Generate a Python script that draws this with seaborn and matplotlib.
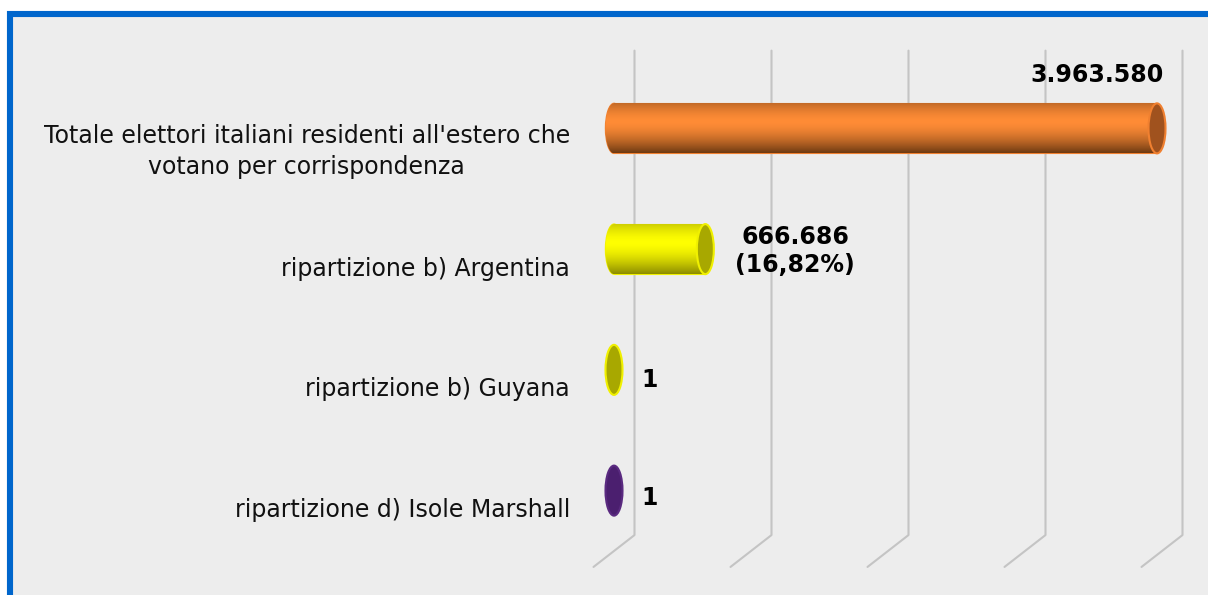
import matplotlib
matplotlib.use("Agg")
import matplotlib.pyplot as plt
import matplotlib.transforms as mtransforms
from matplotlib.patches import Ellipse, Rectangle
import numpy as np
import pandas as pd
import seaborn as sns

# Data
categories = ["Totale elettori italiani residenti all'estero che\nvotano per corrispondenza",
              "ripartizione b) Argentina",
              "ripartizione b) Guyana",
              "ripartizione d) Isole Marshall"]
values = [3963580, 666686, 1, 1]
value_labels = ["3.963.580", "666.686\n(16,82%)", "1", "1"]
x_ticks = [0, 1000000, 2000000, 3000000, 4000000]

# colours: body, cap fill, cap edge, shadow
body_colors = ["#FF8C36", "#FFFF00", "#FFFF00", "#4B1F6F"]
cap_colors = ["#A0521E", "#A8A800", "#A8A800", "#4B1F6F"]
edge_colors = ["#F08030", "#F0F000", "#F0F000", "#5A2A80"]
shade_colors = ["#6E3A12", "#8C8C00", "#8C8C00", "#2E1245"]

df = pd.DataFrame({"categoria": categories, "elettori": values})

sns.set_style("white")
plt.rcParams["font.family"] = ["DejaVu Sans"]

W, H = 1208, 595
fig = plt.figure(figsize=(W / 100, H / 100), dpi=100)
fig.patch.set_facecolor("white")

# framed panel
fig.patches.append(Rectangle((10 / W, -0.05), 1.1, (595 - 14) / H + 0.05,
                             transform=fig.transFigure, facecolor="#EDEDED",
                             edgecolor="#0066CC", linewidth=4.4, zorder=-10))

ax = fig.add_axes([614 / W, 44 / H, 548 / W, 483 / H])
bar_h = 50 / 120.7
sns.barplot(data=df, x="elettori", y="categoria", hue="categoria",
            palette=body_colors, orient="h", width=bar_h, ax=ax,
            legend=False, saturation=1, linewidth=0)
ax.set_facecolor("none")
ax.set_xlim(0, 4000000)
ax.set_ylim(3.5, -0.5)
for s in ax.spines.values():
    s.set_visible(False)
ax.set_xticks([])
ax.set_xlabel("")
ax.set_ylabel("")

# 3D gridlines: back wall + floor diagonal
px = 4000000 / 548  # data units per pixel
back = mtransforms.blended_transform_factory(ax.transData, ax.transAxes)
for v in x_ticks:
    ax.plot([v + 20.5 * px, v + 20.5 * px, v - 20.5 * px],
            [1.036, 0.033, -0.033], transform=back, color="#C4C4C4",
            lw=1.5, clip_on=False, zorder=0)

# cylinders
cap_w = 17 * px
for i, (p, val) in enumerate(zip(ax.patches, values)):
    y0 = p.get_y()
    h = p.get_height()
    yc = y0 + h / 2
    grad = np.linspace(0, 1, 200)
    col = matplotlib.colors.to_rgb(body_colors[i])
    dark = matplotlib.colors.to_rgb(shade_colors[i])
    prof = np.clip(np.abs(grad - 0.38) / 0.62, 0, 1) ** 1.6
    img = np.array([[c * (1 - t) + d * t for c, d in zip(col, dark)] for t in prof])
    img = img[:, None, :]
    if val > 1:
        left = Ellipse((0, yc), cap_w, h, facecolor=body_colors[i],
                       edgecolor=edge_colors[i], lw=1, zorder=2, clip_on=False)
        ax.add_patch(left)
        p.set_zorder(2)
        p.set_edgecolor(edge_colors[i])
        p.set_linewidth(0.8)
        for clip in (p, left):
            im = ax.imshow(img, extent=(-cap_w, val, y0 + h, y0), aspect="auto",
                           zorder=2.5, interpolation="bilinear")
            im.set_clip_box(fig.bbox)
            im.set_clip_path(clip)
    cap = Ellipse((p.get_width() if val > 1 else 0, yc), cap_w, h,
                  facecolor=cap_colors[i], edgecolor=edge_colors[i],
                  lw=1.5, zorder=3, clip_on=False)
    ax.add_patch(cap)

ax.set_xlim(0, 4000000)
ax.set_ylim(3.5, -0.5)

# value labels
lab_kw = dict(textcoords="offset pixels", va="center", fontsize=17,
              fontweight="bold", color="black")
ax.annotate(value_labels[0], (values[0], 0), xytext=(7, 53), ha="right", **lab_kw)
ax.annotate(value_labels[1], (values[1], 1), xytext=(90, -2), ha="center",
            linespacing=1.2, **lab_kw)
ax.annotate(value_labels[2], (0, 2), xytext=(36, -10), ha="center", **lab_kw)
ax.annotate(value_labels[3], (0, 3), xytext=(36, -7), ha="center", **lab_kw)

# category labels on the front plane
ax.tick_params(axis="y", length=0, pad=31.7, labelsize=17)
shift = mtransforms.ScaledTranslation(0, -17 / 100, fig.dpi_scale_trans)
for lab in ax.get_yticklabels():
    lab.set_transform(lab.get_transform() + shift)
    lab.set_multialignment("center")
    lab.set_color("#111111")
    lab.set_linespacing(1.35)

fig.savefig("out.png", dpi=100)
